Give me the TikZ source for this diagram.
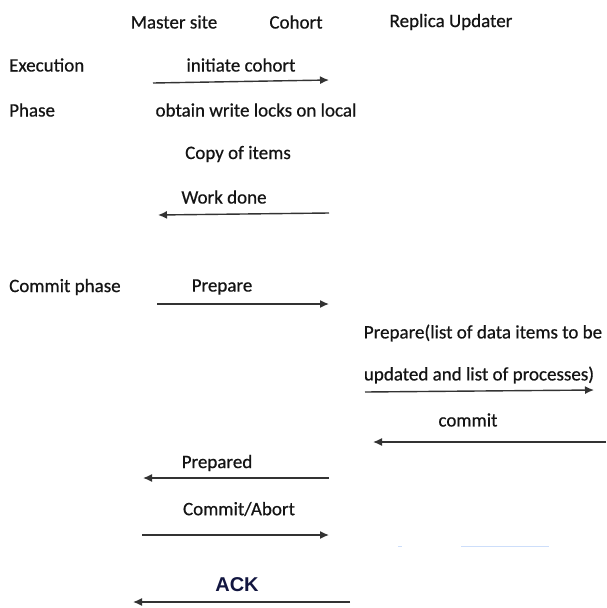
\documentclass[tikz,border=0pt]{standalone}
\usepackage{fontspec}
\setmainfont{Carlito}[FakeBold=0.6,AutoFakeBold=0.6]
\newfontfamily\ackfont{Liberation Sans}
\usetikzlibrary{arrows.meta}
\definecolor{ackblue}{RGB}{18,22,64}
\definecolor{faintblue}{RGB}{205,222,250}
\tikzset{
  lbl/.style={font=\fontsize{19}{22}\selectfont\bfseries, inner sep=0pt, text=black!92},
  lft/.style={lbl, anchor=west},
  msg/.style={line width=1.4pt, -{Latex[length=9pt,width=8pt]}, black!80},
}
\begin{document}
\begin{tikzpicture}[x=1pt,y=-1pt]
\useasboundingbox (0,0) rectangle (606,608);
% headers
\node[lbl] (hm) at (174,22) {Master site};
\node[lbl] (hc) at (296,22) {Cohort};
\node[lbl] (hr) at (451,22) {Replica Updater};
% phase labels
\node[lft] (ex) at (9,65) {Execution};
\node[lft] (ph) at (9,110) {Phase};
\node[lft] (cp) at (9,287) {Commit phase};
% message labels
\node[lbl] (m1) at (241,65) {initiate cohort};
\node[lbl] (m2) at (256,110) {obtain write locks on local};
\node[lbl] (m3) at (238,154) {Copy of items};
\node[lbl] (m4) at (224,197) {Work done};
\node[lbl] (m5) at (222,287) {Prepare};
\node[lbl] (m6) at (483,333) {Prepare(list of data items to be};
\node[lbl] (m7) at (479,375) {updated and list of processes)};
\node[lbl] (m8) at (468,420) {commit};
\node[lbl] (m9) at (217,463) {Prepared};
\node[lbl] (m10) at (239,509) {Commit/Abort};
\node[font=\ackfont\bfseries\fontsize{20}{23}\selectfont, text=ackblue, inner sep=0pt] (m11) at (237,585) {ACK};
% arrow endpoints
\coordinate (a1s) at (153,83); \coordinate (a1e) at (329,80);
\coordinate (a2s) at (329,213); \coordinate (a2e) at (158,215);
\coordinate (a3s) at (157,304); \coordinate (a3e) at (329,304);
\coordinate (a4s) at (365,392); \coordinate (a4e) at (594,390);
\coordinate (a5s) at (606,442); \coordinate (a5e) at (373,442);
\coordinate (a6s) at (329,478); \coordinate (a6e) at (143,478);
\coordinate (a7s) at (142,535); \coordinate (a7e) at (329,535);
\coordinate (a8s) at (350,602); \coordinate (a8e) at (133,602);
\draw[msg] (a1s) -- (a1e);
\draw[msg] (a2s) -- (a2e);
\draw[msg] (a3s) -- (a3e);
\draw[msg] (a4s) -- (a4e);
\draw[msg] (a5s) -- (a5e);
\draw[msg] (a6s) -- (a6e);
\draw[msg] (a7s) -- (a7e);
\draw[msg] (a8s) -- (a8e);
% faint artifact lines
\coordinate (b1) at (398,546); \coordinate (b2) at (402,546);
\coordinate (b3) at (461,546); \coordinate (b4) at (549,546);
\draw[faintblue, line width=1pt] (b1) -- (b2);
\draw[faintblue, line width=1pt] (b3) -- (b4);
\end{tikzpicture}
\end{document}
